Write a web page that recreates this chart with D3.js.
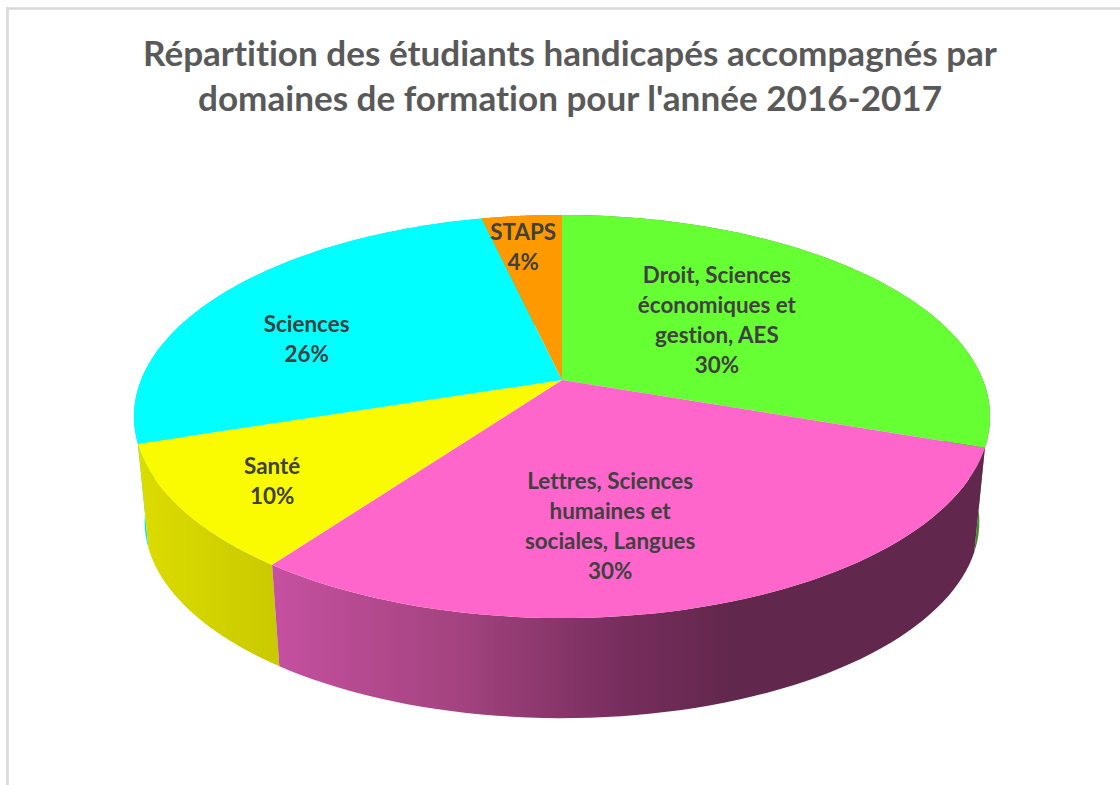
<!DOCTYPE html>
<html lang="fr">
<head>
<meta charset="utf-8">
<script src="https://cdn.jsdelivr.net/npm/d3@7/dist/d3.min.js"></script>
<style>
html,body{margin:0;padding:0;background:#fff;}
svg{display:block;}
text{font-family:Lato,"Open Sans",sans-serif;font-weight:700;font-variant-ligatures:none;font-feature-settings:"liga" 0;}
</style>
</head>
<body>
<script>
// Data
const categories = [
  ["Droit, Sciences", "économiques et", "gestion, AES"],
  ["Lettres, Sciences", "humaines et", "sociales, Langues"],
  ["Santé"],
  ["Sciences"],
  ["STAPS"]
];
const values = [30.3, 29.7, 10, 26.4, 3.6];
const percentLabels = ["30%", "30%", "10%", "26%", "4%"];
const titleLines = [
  "Répartition des étudiants handicapés accompagnés par",
  "domaines de formation pour l'année 2016-2017"
];
const topColors = ["#66ff33", "#ff66cc", "#fbfb00", "#00ffff", "#ff9900"];
const wallColors = ["#3f8f20", "url(#wallMagenta)", "url(#wallYellow)", "#00e6e6", "#cc7a00"];

// Layout
const W = 1120, H = 785;
const cx = 562, cyTop = 380, rx = 421, ry = 195, k = 0.181;
const depthScale = 0.975, cyBottom = 486;
const labelOffsets = [[-8, -5], [-21, 45], [-110, 41], [-80, 6], [-17, -43]];
const lineHeight = 30;

const svg = d3.select("body").append("svg").attr("width", W).attr("height", H);
const defs = svg.append("defs");

function gradient(id, x1, x2, stops) {
  const g = defs.append("linearGradient").attr("id", id)
    .attr("gradientUnits", "userSpaceOnUse")
    .attr("x1", x1).attr("x2", x2).attr("y1", 0).attr("y2", 0);
  stops.forEach(([o, c]) => g.append("stop").attr("offset", o).attr("stop-color", c));
}
gradient("wallMagenta", 279, 730, [[0, "#c4509f"], [0.4, "#a3437f"], [0.75, "#782e5e"], [1, "#62274c"]]);
gradient("wallYellow", 140, 280, [[0, "#dcdc00"], [1, "#c9c900"]]);

// Frame
svg.append("line").attr("x1", 7.5).attr("x2", 7.5).attr("y1", 7).attr("y2", H)
  .attr("stroke", "#d9d9d9").attr("stroke-width", 2.5);
svg.append("line").attr("x1", 7).attr("x2", W).attr("y1", 8.5).attr("y2", 8.5)
  .attr("stroke", "#d9d9d9").attr("stroke-width", 2.5);

// Projection of the unit disc (angle clockwise from the back, f = radial fraction)
function project(theta, f, scale, cy) {
  const u = f * Math.sin(theta), v = -f * Math.cos(theta), w = 1 - k * v;
  return [cx + scale * rx * u / w, cy + scale * ry * v / w];
}
const pie = d3.pie().sort(null).value(d => d)(values);
const line = d3.line();
const samples = (a, b) => d3.range(0, 61).map(d3.scaleLinear().domain([0, 60]).range([a, b]));

// Walls, back to front
const wallOrder = [0, 3, 4, 2, 1];
svg.append("g").selectAll("path").data(wallOrder).join("path")
  .attr("d", i => {
    const s = samples(pie[i].startAngle, pie[i].endAngle);
    const upper = s.map(t => project(t, 1, 1, cyTop));
    const lower = s.slice().reverse().map(t => project(t, 1, depthScale, cyBottom));
    return line(upper.concat(lower)) + "Z";
  })
  .attr("fill", i => wallColors[i]);

// Top faces
svg.append("g").selectAll("path").data(pie).join("path")
  .attr("d", d => {
    const s = samples(d.startAngle, d.endAngle).map(t => project(t, 1, 1, cyTop));
    return line([[cx, cyTop]].concat(s)) + "Z";
  })
  .attr("fill", (d, i) => topColors[i]);

// Labels
const labels = svg.append("g").selectAll("text").data(pie).join("text")
  .attr("text-anchor", "middle")
  .attr("font-size", 22.4)
  .attr("fill", "#404040")
  .each(function (d, i) {
    const [ax, ay] = project((d.startAngle + d.endAngle) / 2, 0.5, 1, cyTop);
    const x = ax + labelOffsets[i][0], y = ay + labelOffsets[i][1];
    const rows = categories[i].concat(percentLabels[i]);
    const y0 = y - (rows.length - 1) * lineHeight / 2 + 7;
    d3.select(this).selectAll("tspan").data(rows).join("tspan")
      .attr("x", x).attr("y", (r, j) => y0 + j * lineHeight).text(r => r);
  });

// Title
svg.append("g").selectAll("text").data(titleLines).join("text")
  .attr("x", 570).attr("y", (d, i) => 66 + i * 44.5)
  .attr("text-anchor", "middle")
  .attr("font-size", 35.1)
  .attr("fill", "#595959")
  .text(d => d);
</script>
</body>
</html>
